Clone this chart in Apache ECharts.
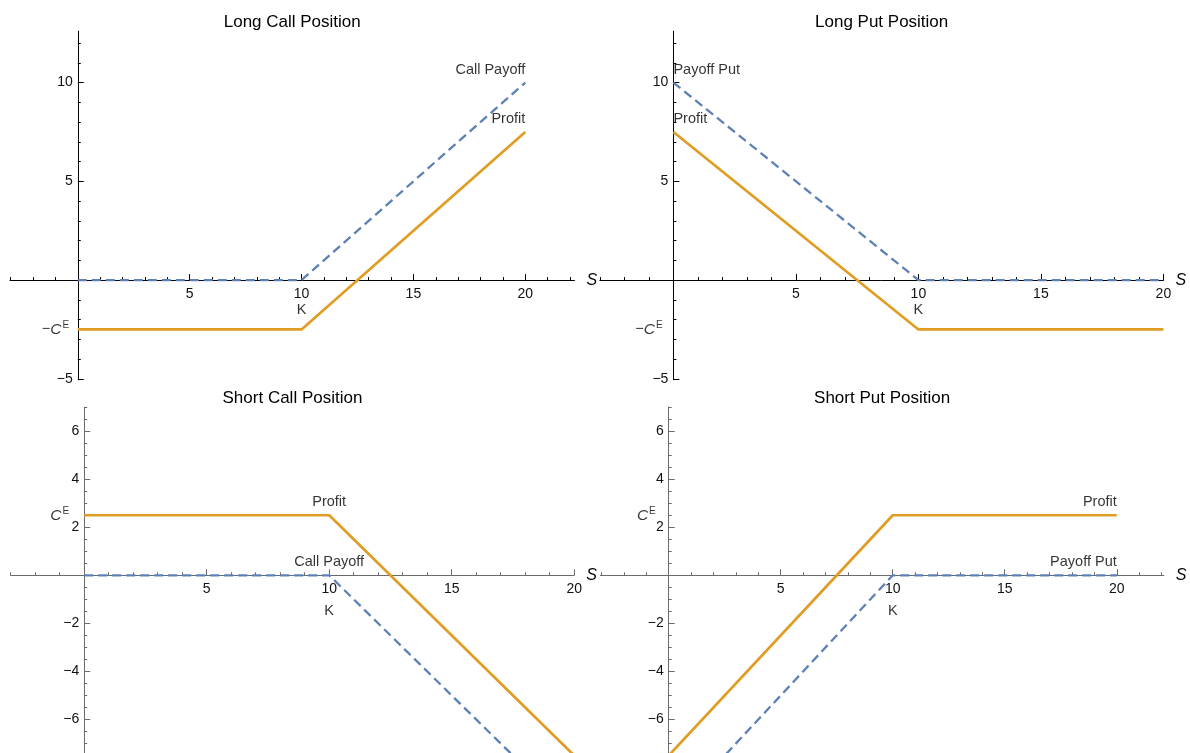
<!DOCTYPE html>
<html>
<head>
<meta charset="utf-8">
<script src="https://cdn.jsdelivr.net/npm/echarts@6/dist/echarts.min.js"></script>
<style>
html,body{margin:0;padding:0;background:#fff;}
#chart{width:1190px;height:753px;}
</style>
</head>
<body>
<div id="chart"></div>
<script>
// ---------- data ----------
const titles = ['Long Call Position', 'Long Put Position', 'Short Call Position', 'Short Put Position'];
const stockPrice = [0, 10, 20];
const longCallPayoff = [0, 0, 10];
const longCallProfit = [-2.5, -2.5, 7.5];
const longPutPayoff = [10, 0, 0];
const longPutProfit = [7.5, -2.5, -2.5];
const shortCallPayoff = [0, 0, -10];
const shortCallProfit = [2.5, 2.5, -7.5];
const shortPutPayoff = [-10, 0, 0];
const shortPutProfit = [-7.5, 2.5, 2.5];
const payoffNames = ['Call Payoff', 'Payoff Put', 'Call Payoff', 'Payoff Put'];
const profitName = 'Profit';
const xTickLabels = [5, 10, 15, 20];
const yTickLabelsLong = [-5, 5, 10];
const yTickLabelsShort = [-6, -4, -2, 2, 4, 6];
const strike = 10;
const strikeLabel = 'K';
const premium = 2.5;
const axisName = 'S';

// ---------- layout / style ----------
const FONT = "'Liberation Sans', Arial, Helvetica, sans-serif";
const BLUE = '#5E81B5';
const ORANGE = '#E19C24';
const TEXT = '#000000';

function minorTicks(from, to, step, majors) {
  const out = [];
  const n = Math.round((to - from) / step);
  for (let i = 0; i <= n; i++) {
    const v = +(from + i * step).toFixed(4);
    if (v !== 0 && majors.indexOf(v) < 0) out.push(v);
  }
  return out;
}
function fmtTick(v) { return String(v).replace('-', '\u2212'); }

const panels = [
  { title: titles[0], payoff: longCallPayoff, profit: longCallProfit, payoffName: payoffNames[0],
    labelIdx: 2, align: 'right', xMin: -3.03, xMax: 22.2, yMin: -5.05, yMax: 12.6,
    grid: { left: 10, top: 31.2, width: 564.5, height: 348.6 },
    xTickTo: 22, yMajor: yTickLabelsLong, yStep: 1, yFrom: -5, yTo: 12,
    axisColor: '#000000', titleTop: 14, cSign: -1 },
  { title: titles[1], payoff: longPutPayoff, profit: longPutProfit, payoffName: payoffNames[1],
    labelIdx: 0, align: 'left', xMin: -3, xMax: 20, yMin: -5.05, yMax: 12.6,
    grid: { left: 599.9, top: 31.2, width: 563.5, height: 348.6 },
    xTickTo: 20, yMajor: yTickLabelsLong, yStep: 1, yFrom: -5, yTo: 12,
    axisColor: '#000000', titleTop: 14, cSign: -1 },
  { title: titles[2], payoff: shortCallPayoff, profit: shortCallProfit, payoffName: payoffNames[2],
    labelIdx: 1, align: 'center', xMin: -3, xMax: 20, yMin: -7.4, yMax: 7,
    grid: { left: 10.7, top: 407.1, width: 563.5, height: 346.0 },
    xTickTo: 20, yMajor: yTickLabelsShort, yStep: 0.5, yFrom: -7, yTo: 7,
    axisColor: '#6a6a6a', titleTop: 390, cSign: 1 },
  { title: titles[3], payoff: shortPutPayoff, profit: shortPutProfit, payoffName: payoffNames[3],
    labelIdx: 2, align: 'right', xMin: -3.05, xMax: 22.1, yMin: -7.4, yMax: 7,
    grid: { left: 600.4, top: 407.1, width: 563.4, height: 346.0 },
    xTickTo: 22, yMajor: yTickLabelsShort, yStep: 0.5, yFrom: -7, yTo: 7,
    axisColor: '#6a6a6a', titleTop: 390, cSign: 1 }
];

const option = {
  backgroundColor: '#ffffff',
  animation: false,
  title: [], grid: [], xAxis: [], yAxis: [], series: []
};

panels.forEach(function (p, k) {
  const xi = 2 * k, yi = 2 * k;
  // axes cross at the origin: shift them from the grid edge to where the other axis is zero
  const xOffset = -p.grid.height * (0 - p.yMin) / (p.yMax - p.yMin);
  const yOffset = -p.grid.width * (0 - p.xMin) / (p.xMax - p.xMin);
  option.grid.push(Object.assign({ containLabel: false, outerBoundsMode: 'none', show: false }, p.grid));
  option.title.push({
    text: p.title, left: p.grid.left + p.grid.width / 2, top: p.titleTop, textAlign: 'center', padding: 0,
    textStyle: { fontFamily: FONT, fontSize: 17, fontWeight: 'normal', color: TEXT }
  });
  const lineStyle = { color: p.axisColor, width: 1 };
  const labelStyle = { fontFamily: FONT, fontSize: 14, color: '#111111', formatter: fmtTick };
  // x axes: minor (with line + name) and major (ticks + labels)
  option.xAxis.push({
    gridIndex: k, type: 'value', position: 'bottom', offset: xOffset, min: p.xMin, max: p.xMax,
    axisLine: { show: true, onZero: false, lineStyle: lineStyle },
    axisTick: { show: true, inside: true, length: 3, customValues: minorTicks(-3, p.xTickTo, 1, xTickLabels), lineStyle: lineStyle },
    axisLabel: { show: false }, splitLine: { show: false },
    name: axisName, nameLocation: 'end', nameGap: 12,
    nameTextStyle: { fontFamily: FONT, fontSize: 16, fontStyle: 'italic', color: TEXT, verticalAlign: 'middle' }
  });
  option.xAxis.push({
    gridIndex: k, type: 'value', position: 'bottom', offset: xOffset, min: p.xMin, max: p.xMax,
    axisLine: { show: false, onZero: false },
    axisTick: { show: true, inside: true, length: 6, customValues: xTickLabels, lineStyle: lineStyle },
    axisLabel: Object.assign({ show: true, inside: false, customValues: xTickLabels, margin: 7 }, labelStyle),
    splitLine: { show: false }
  });
  // y axes
  option.yAxis.push({
    gridIndex: k, type: 'value', position: 'left', offset: yOffset, min: p.yMin, max: p.yMax,
    axisLine: { show: true, onZero: false, lineStyle: lineStyle },
    axisTick: { show: true, inside: true, length: 3, customValues: minorTicks(p.yFrom, p.yTo, p.yStep, p.yMajor), lineStyle: lineStyle },
    axisLabel: { show: false }, splitLine: { show: false }
  });
  option.yAxis.push({
    gridIndex: k, type: 'value', position: 'left', offset: yOffset, min: p.yMin, max: p.yMax,
    axisLine: { show: false, onZero: false },
    axisTick: { show: true, inside: true, length: 6, customValues: p.yMajor, lineStyle: lineStyle },
    axisLabel: Object.assign({ show: true, inside: false, customValues: p.yMajor, margin: 5 }, labelStyle),
    splitLine: { show: false }
  });

  option.series.push({
    type: 'line', xAxisIndex: xi, yAxisIndex: yi, symbol: 'none', silent: true, z: 3,
    data: stockPrice.map(function (s, i) { return [s, p.payoff[i]]; }),
    lineStyle: { color: BLUE, width: 2.3, type: [9, 5] }, itemStyle: { color: BLUE }
  });
  option.series.push({
    type: 'line', xAxisIndex: xi, yAxisIndex: yi, symbol: 'none', silent: true, z: 4,
    data: stockPrice.map(function (s, i) { return [s, p.profit[i]]; }),
    lineStyle: { color: ORANGE, width: 2.7 }, itemStyle: { color: ORANGE }
  });

  const textBase = { show: true, fontFamily: FONT, fontSize: 14.5, color: TEXT };
  const idx = p.labelIdx;
  const cText = (p.cSign < 0 ? '{n|\u2212}' : '') + '{c|C}{e|E}';
  option.series.push({
    type: 'scatter', xAxisIndex: xi, yAxisIndex: yi, silent: true, z: 5,
    symbolSize: 1, itemStyle: { color: 'rgba(0,0,0,0)' },
    data: [
      { value: [stockPrice[idx], p.payoff[idx]],
        label: Object.assign({}, textBase, { formatter: p.payoffName, position: 'top', distance: 5, align: p.align }) },
      { value: [stockPrice[idx], p.profit[idx]],
        label: Object.assign({}, textBase, { formatter: profitName, position: 'top', distance: 5, align: p.align }) },
      { value: [strike, -1.5],
        label: Object.assign({}, textBase, { formatter: strikeLabel, position: 'inside' }) },
      { value: [-1, p.cSign * premium],
        label: Object.assign({}, textBase, {
          formatter: cText, position: 'inside',
          rich: {
            n: { fontFamily: FONT, fontSize: 14.5, color: TEXT },
            c: { fontFamily: FONT, fontSize: 15.5, fontStyle: 'italic', color: TEXT },
            e: { fontFamily: FONT, fontSize: 10, color: TEXT, padding: [0, 0, 8, 1] }
          }
        }) }
    ]
  });
});

const chart = echarts.init(document.getElementById('chart'), null, { renderer: 'canvas' });
chart.setOption(option);
</script>
</body>
</html>
